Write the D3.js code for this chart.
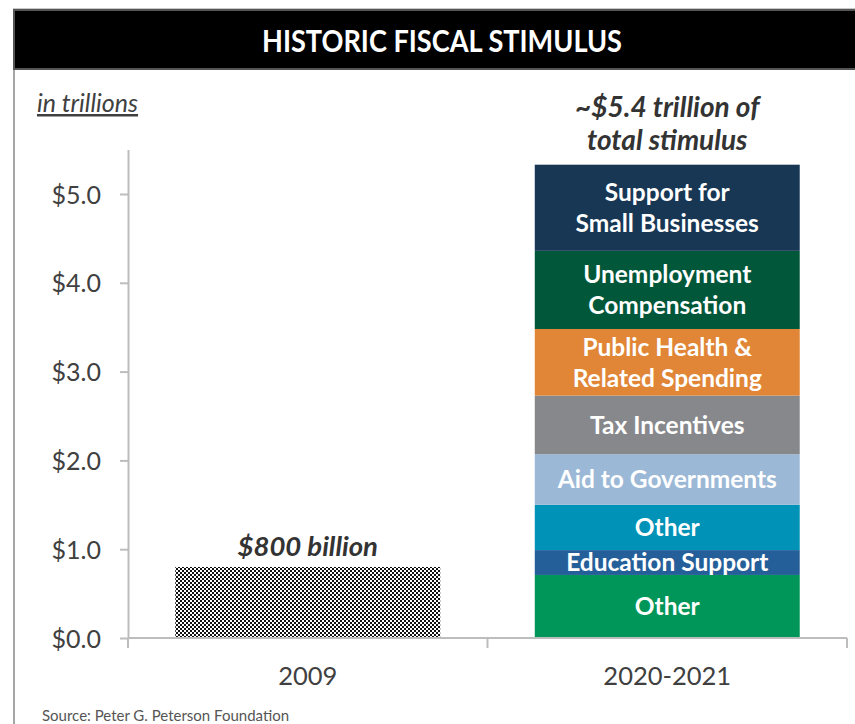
<!DOCTYPE html>
<html>
<head>
<meta charset="utf-8">
<script src="https://cdn.jsdelivr.net/npm/d3@7"></script>
<style>
  html, body { margin: 0; padding: 0; background: #fff; }
  svg { display: block; }
</style>
</head>
<body>
<svg id="chart" width="855" height="724"></svg>
<script>
// ---- data (trillions of dollars) ----
const categories = ["2009", "2020-2021"];
const value2009 = 0.80;
// 2020-2021 components, stacked bottom to top
const segmentValues = [0.71, 0.28, 0.51, 0.57, 0.66, 0.75, 0.88, 0.97];
const segmentLabels = [
  ["Other"],
  ["Education Support"],
  ["Other"],
  ["Aid to Governments"],
  ["Tax Incentives"],
  ["Public Health &", "Related Spending"],
  ["Unemployment", "Compensation"],
  ["Support for", "Small Businesses"]
];
const yTicks = [0, 1, 2, 3, 4, 5];
const title = "HISTORIC FISCAL STIMULUS";
const unitNote = "in trillions";
const note2009 = "$800 billion";
const noteTotal = ["~$5.4 trillion of", "total stimulus"];
const sourceNote = "Source: Peter G. Peterson Foundation";

// ---- styles ----
const segmentColors = ["#00965a", "#255f99", "#0092b7", "#9bb8d6", "#87888c", "#e08636", "#01573a", "#173755"];
const textDark = "#404040";
const axisGrey = "#bdbdbd";
const font = "Lato, 'Open Sans', sans-serif";

const svg = d3.select("#chart");

// frame
svg.append("line").attr("x1", 14).attr("x2", 14).attr("y1", 60).attr("y2", 724)
  .attr("stroke", "#a6a6a6").attr("stroke-width", 2);
svg.append("line").attr("x1", 13).attr("x2", 855).attr("y1", 9).attr("y2", 9)
  .attr("stroke", "#c8c8c8").attr("stroke-width", 2);
svg.append("rect").attr("x", 14).attr("y", 10).attr("width", 845).attr("height", 59)
  .attr("fill", "#000").attr("stroke", "#555").attr("stroke-width", 2);

svg.append("text")
  .attr("x", 442).attr("y", 52)
  .attr("text-anchor", "middle")
  .attr("fill", "#fff")
  .style("font-family", font).style("font-weight", 700).style("font-size", "31px")
  .attr("textLength", 360).attr("lengthAdjust", "spacingAndGlyphs")
  .text(title);

// ---- scales ----
const x = d3.scaleBand().domain(categories).range([128, 847]).padding(0);
const y = d3.scaleLinear().domain([0, 5.5]).range([638, 149.6]);
const barRatio = 0.737;
const barW = x.bandwidth() * barRatio;
const barX = c => x(c) + (x.bandwidth() - barW) / 2;

// checker pattern for the 2009 bar
const defs = svg.append("defs");
const pat = defs.append("pattern").attr("id", "checker")
  .attr("patternUnits", "userSpaceOnUse").attr("width", 4).attr("height", 4);
pat.append("rect").attr("width", 4).attr("height", 4).attr("fill", "#fff");
pat.append("rect").attr("width", 2).attr("height", 2).attr("fill", "#111");
pat.append("rect").attr("x", 2).attr("y", 2).attr("width", 2).attr("height", 2).attr("fill", "#111");

// ---- y axis ----
const yAxis = svg.append("g")
  .attr("transform", `translate(${x.range()[0]},0)`)
  .call(d3.axisLeft(y).tickValues(yTicks).tickFormat(d => "$" + d.toFixed(1))
    .tickSize(8).tickSizeOuter(0).tickPadding(19));
yAxis.select(".domain").attr("stroke", axisGrey).attr("stroke-width", 2);
yAxis.selectAll(".tick line").attr("stroke", axisGrey).attr("stroke-width", 2);
yAxis.selectAll(".tick text").attr("fill", textDark)
  .style("font-family", font).style("font-size", "25px").attr("dy", "0.36em");

// ---- bars ----
svg.append("rect")
  .attr("x", barX("2009")).attr("width", barW)
  .attr("y", y(value2009)).attr("height", y(0) - y(value2009))
  .attr("fill", "url(#checker)");

const stackData = [];
let acc = 0;
segmentValues.forEach((v, i) => {
  stackData.push({ y0: acc, y1: acc + v, label: segmentLabels[i], color: segmentColors[i] });
  acc += v;
});

const seg = svg.append("g").selectAll("g").data(stackData).join("g");
seg.append("rect")
  .attr("x", barX("2020-2021")).attr("width", barW)
  .attr("y", d => y(d.y1)).attr("height", d => y(d.y0) - y(d.y1))
  .attr("fill", d => d.color);

const segFont = 24.5, lineH = 31;
seg.each(function(d) {
  const g = d3.select(this);
  const cy = (y(d.y0) + y(d.y1)) / 2;
  const n = d.label.length;
  d.label.forEach((line, i) => {
    g.append("text")
      .attr("x", x("2020-2021") + x.bandwidth() / 2)
      .attr("y", cy + (i - (n - 1) / 2) * lineH + segFont * 0.36)
      .attr("text-anchor", "middle")
      .attr("fill", "#fff")
      .style("font-family", font).style("font-weight", 700).style("font-size", segFont + "px")
      .text(line);
  });
});

// ---- x axis ----
const baseY = y(0);
svg.append("line").attr("x1", x.range()[0]).attr("x2", x.range()[1])
  .attr("y1", baseY).attr("y2", baseY).attr("stroke", axisGrey).attr("stroke-width", 2);
const edges = categories.map(c => x(c)).concat([x.range()[1]]);
svg.append("g").selectAll("line").data(edges).join("line")
  .attr("x1", d => d).attr("x2", d => d).attr("y1", baseY).attr("y2", baseY + 10)
  .attr("stroke", axisGrey).attr("stroke-width", 2);
svg.append("g").selectAll("text").data(categories).join("text")
  .attr("x", d => x(d) + x.bandwidth() / 2).attr("y", 685)
  .attr("text-anchor", "middle").attr("fill", textDark)
  .style("font-family", font).style("font-size", "25.5px")
  .text(d => d);

// ---- annotations ----
svg.append("text").attr("x", 37).attr("y", 112)
  .attr("fill", textDark)
  .style("font-family", font).style("font-style", "italic").style("font-size", "25px")
  .style("text-decoration", "underline")
  .text(unitNote);

svg.append("text")
  .attr("x", x("2009") + x.bandwidth() / 2).attr("y", y(value2009) - 11)
  .attr("text-anchor", "middle").attr("fill", "#333")
  .style("font-family", font).style("font-style", "italic").style("font-weight", 700).style("font-size", "27.5px")
  .text(note2009);

svg.append("g").selectAll("text").data(noteTotal).join("text")
  .attr("x", x("2020-2021") + x.bandwidth() / 2)
  .attr("y", (d, i) => 117 + i * 33)
  .attr("text-anchor", "middle").attr("fill", "#333")
  .style("font-family", font).style("font-style", "italic").style("font-weight", 700).style("font-size", "28px")
  .text(d => d);

svg.append("text").attr("x", 42).attr("y", 721)
  .attr("fill", "#555")
  .style("font-family", font).style("font-size", "15px")
  .text(sourceNote);
</script>
</body>
</html>
